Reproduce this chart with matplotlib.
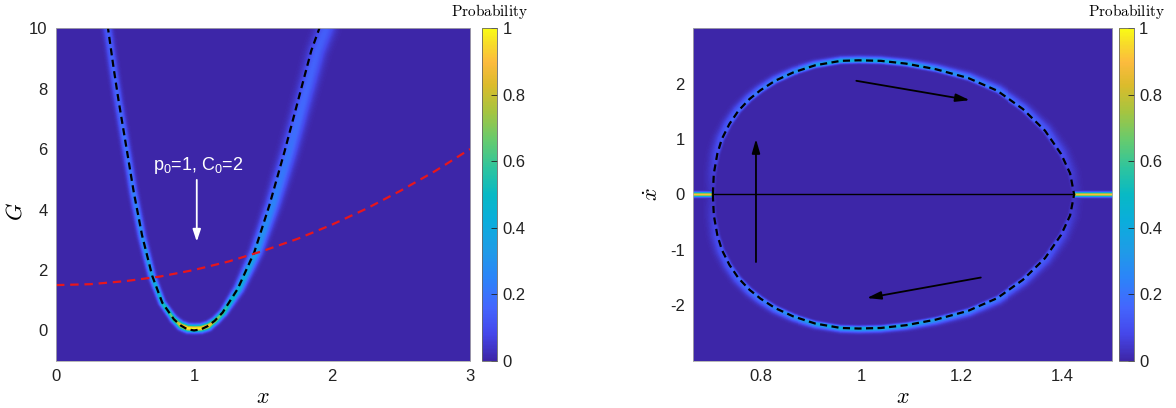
import numpy as np
import matplotlib
matplotlib.use("Agg")
import matplotlib.pyplot as plt
from matplotlib.colors import LinearSegmentedColormap
from matplotlib.path import Path
from matplotlib.ticker import FuncFormatter

# ---- left panel: G(x) well (black dashed)
curve_x = [0.374, 0.417, 0.454, 0.515, 0.563, 0.624, 0.697, 0.770, 0.854, 0.905, 0.952, 1.0,
           1.05, 1.098, 1.15, 1.207, 1.316, 1.437, 1.546, 1.656, 1.753, 1.850, 1.911]
curve_G = [10.09, 8.7, 7.59, 5.92, 4.59, 3.14, 1.81, 0.92, 0.37, 0.16, 0.04, 0.0,
           0.035, 0.14, 0.32, 0.59, 1.37, 2.59, 4.14, 5.92, 7.59, 9.26, 10.03]

# ridge of the probability band (drifts outwards on the right branch)
ridge_x = [0.368, 0.411, 0.448, 0.509, 0.557, 0.618, 0.691, 0.765, 0.850, 0.902, 0.951, 1.0,
           1.05, 1.099, 1.152, 1.210, 1.321, 1.447, 1.566, 1.686, 1.788, 1.890, 1.956]
ridge_G = [10.09, 8.7, 7.59, 5.92, 4.59, 3.14, 1.81, 0.92, 0.37, 0.16, 0.07, 0.06,
           0.07, 0.14, 0.32, 0.59, 1.37, 2.59, 4.14, 5.92, 7.59, 9.26, 10.03]

# peak probability / band half width (px) along the ridge, by G
band_G = [0.0, 0.12, 0.25, 0.5, 0.8, 1.2, 2.0, 3.0, 5.0, 7.5, 10.0]
band_peak = [1.0, 1.0, 0.8, 0.66, 0.55, 0.46, 0.38, 0.3, 0.22, 0.17, 0.14]
band_sig_left = [2.4, 2.4, 2.2, 2.0, 2.0, 2.1, 2.3, 2.5, 2.7, 2.9, 3.1]
band_sig_right = [2.4, 2.4, 2.2, 2.2, 2.4, 2.8, 3.4, 4.0, 5.0, 5.5, 6.0]

# red dashed curve
red_x = [0, 0.25, 0.5, 0.75, 1.0, 1.25, 1.5, 1.75, 2.0, 2.25, 2.5, 2.75, 3.0]
red_G = [1.50, 1.53, 1.63, 1.78, 2.0, 2.28, 2.63, 3.03, 3.5, 4.03, 4.63, 5.28, 6.0]

# ---- right panel: orbit in (x, xdot), upper half; lower half is the mirror
orbit_x = [0.704, 0.706, 0.713, 0.722, 0.737, 0.755, 0.777, 0.799, 0.828, 0.864, 0.908, 0.959,
           0.995, 1.039, 1.089, 1.148, 1.213, 1.271, 1.322, 1.366, 1.398, 1.416, 1.424]
orbit_v = [0.0, 0.376, 0.734, 1.0, 1.27, 1.51, 1.72, 1.88, 2.05, 2.20, 2.33, 2.41,
           2.42, 2.41, 2.36, 2.26, 2.10, 1.87, 1.54, 1.15, 0.73, 0.38, 0.0]

ring_v = [0.0, 0.4, 0.8, 1.2, 1.6, 2.0, 2.25, 2.4, 2.45]
ring_peak = [0.03, 0.06, 0.1, 0.14, 0.18, 0.24, 0.32, 0.42, 0.45]
ring_sig_out = [5.0, 5.0, 5.0, 4.5, 4.0, 3.5, 3.0, 2.5, 2.5]
ring_sig_in = 1.5
stripe_peak = 0.9
stripe_sig = 1.5

# arrows on the right panel: (start, end)
flow_arrows = [((0.99, 2.05), (1.216, 1.70)),
               ((1.238, -1.50), (1.011, -1.87)),
               ((0.790, -1.22), (0.790, 1.0))]

parula = LinearSegmentedColormap.from_list("parula", [
    (0.00, (0.242, 0.150, 0.660)), (0.08, (0.272, 0.280, 0.920)),
    (0.16, (0.265, 0.400, 0.995)), (0.25, (0.170, 0.520, 0.975)),
    (0.33, (0.120, 0.610, 0.905)), (0.42, (0.040, 0.680, 0.860)),
    (0.50, (0.030, 0.725, 0.770)), (0.58, (0.180, 0.770, 0.620)),
    (0.66, (0.390, 0.795, 0.440)), (0.75, (0.650, 0.770, 0.250)),
    (0.83, (0.860, 0.735, 0.170)), (0.90, (0.990, 0.735, 0.240)),
    (0.95, (0.970, 0.850, 0.170)), (1.00, (0.977, 0.984, 0.081))])

plt.rcParams['font.family'] = ['Liberation Sans', 'DejaVu Sans']
plt.rcParams['axes.unicode_minus'] = False
plt.rcParams['mathtext.fontset'] = 'custom'
plt.rcParams['mathtext.rm'] = 'Liberation Sans'
plt.rcParams['mathtext.it'] = 'Liberation Sans:italic'


def dense(xs, ys, n=25):
    px = np.concatenate([np.linspace(xs[i], xs[i + 1], n, endpoint=False) for i in range(len(xs) - 1)])
    py = np.concatenate([np.linspace(ys[i], ys[i + 1], n, endpoint=False) for i in range(len(ys) - 1)])
    return px, py


def ridge_field(gx, gy, px, py, pk, sg, sx, sy):
    img = np.zeros((len(gy), len(gx)))
    for j, y in enumerate(gy):
        d2 = ((gx[:, None] - px[None, :]) * sx) ** 2 + ((y - py[None, :]) * sy) ** 2
        img[j] = (pk[None, :] * np.exp(-0.5 * d2 / sg[None, :] ** 2)).max(axis=1)
    return img


fig = plt.figure(figsize=(11.76, 4.08), dpi=100)
ax1 = fig.add_axes([0.0476, 0.116, 0.3521, 0.815])
cax1 = fig.add_axes([0.4101, 0.116, 0.0123, 0.815])
ax2 = fig.add_axes([0.5895, 0.116, 0.3563, 0.815])
cax2 = fig.add_axes([0.9518, 0.116, 0.0122, 0.815])

# ---- left heatmap
xlim1, ylim1 = (0, 3), (-1, 10)
sx1, sy1 = 138.0, 30.25   # px per data unit
gx1 = np.linspace(*xlim1, 415)
gy1 = np.linspace(*ylim1, 333)
px, py = dense(ridge_x, ridge_G)
pk = np.interp(py, band_G, band_peak)
sg = np.where(px < 1, np.interp(py, band_G, band_sig_left), np.interp(py, band_G, band_sig_right))
img1 = ridge_field(gx1, gy1, px, py, pk, sg, sx1, sy1)
im1 = ax1.imshow(img1, extent=[*xlim1, *ylim1], origin='lower', aspect='auto',
                 cmap=parula, vmin=0, vmax=1, interpolation='nearest')
ax1.plot(curve_x, curve_G, color='k', lw=1.6, dashes=(3.2, 2.0))
ax1.plot(red_x, red_G, color='#e8161c', lw=1.6, dashes=(3.8, 2.6))
ax1.annotate('', xy=(1.02, 2.94), xytext=(1.02, 4.98),
             arrowprops=dict(arrowstyle='-|>,head_length=0.6,head_width=0.2', color='white',
                             lw=1.3, mutation_scale=12, shrinkA=0, shrinkB=0))
ax1.text(1.03, 5.47, r'p$_{\mathrm{0}}$=1, C$_{\mathrm{0}}$=2', color='white',
         ha='center', va='center', fontsize=13)
ax1.set_xlim(*xlim1)
ax1.set_ylim(*ylim1)
ax1.set_xticks([0, 1, 2, 3])
ax1.set_yticks([0, 2, 4, 6, 8, 10])
ax1.set_xlabel(r'$x$', fontsize=16, math_fontfamily='cm', labelpad=2)
ax1.set_ylabel(r'$G$', fontsize=16, math_fontfamily='cm')
ax1.yaxis.set_label_coords(-0.07, 0.45)

# ---- right heatmap
xlim2, ylim2 = (0.665, 1.5), (-3, 3)
sx2, sy2 = 505.0, 55.5
gx2 = np.linspace(*xlim2, 422)
gy2 = np.linspace(*ylim2, 333)
loop_x = list(orbit_x) + list(orbit_x[::-1][1:])
loop_v = list(orbit_v) + [-v for v in orbit_v[::-1][1:]]
px, py = dense(loop_x, loop_v)
pk = np.interp(np.abs(py), ring_v, ring_peak)
img_out = ridge_field(gx2, gy2, px, py, pk, np.interp(np.abs(py), ring_v, ring_sig_out), sx2, sy2)
img_in = ridge_field(gx2, gy2, px, py, pk, np.full_like(px, ring_sig_in), sx2, sy2)
GX, GY = np.meshgrid(gx2, gy2)
inside = Path(np.column_stack([loop_x, loop_v])).contains_points(
    np.column_stack([GX.ravel(), GY.ravel()])).reshape(GX.shape)
img2 = np.where(inside, img_in, img_out)
outside_x = (GX < min(orbit_x)) | (GX > max(orbit_x))
stripe = stripe_peak * np.exp(-0.5 * (GY * sy2 / stripe_sig) ** 2)
img2 = np.where(outside_x, np.maximum(img2, stripe), img2)
im2 = ax2.imshow(img2, extent=[*xlim2, *ylim2], origin='lower', aspect='auto',
                 cmap=parula, vmin=0, vmax=1, interpolation='nearest')
ax2.plot([min(orbit_x), max(orbit_x)], [0, 0], color='k', lw=1.0)
ax2.plot(loop_x, loop_v, color='k', lw=1.6, dashes=(3.2, 2.0))
for (x0, y0), (x1, y1) in flow_arrows:
    ax2.annotate('', xy=(x1, y1), xytext=(x0, y0),
                 arrowprops=dict(arrowstyle='-|>,head_length=0.7,head_width=0.2', color='k',
                                 lw=1.3, mutation_scale=12, shrinkA=0, shrinkB=0))
ax2.set_xlim(*xlim2)
ax2.set_ylim(*ylim2)
ax2.set_xticks([0.8, 1, 1.2, 1.4])
ax2.set_yticks([-2, -1, 0, 1, 2])
ax2.set_xlabel(r'$x$', fontsize=16, math_fontfamily='cm', labelpad=2)
ax2.set_ylabel(r'$\dot{x}$', fontsize=16, math_fontfamily='cm')
ax2.yaxis.set_label_coords(-0.072, 0.5)

fmt = FuncFormatter(lambda v, _: f'{v:g}')
for ax in (ax1, ax2):
    ax.xaxis.set_major_formatter(fmt)
    ax.yaxis.set_major_formatter(fmt)
    ax.tick_params(length=0, labelsize=12, pad=6, colors='#222222')
    for s in ax.spines.values():
        s.set_color('#aaaaaa')
        s.set_linewidth(0.6)

for cax, im in ((cax1, im1), (cax2, im2)):
    cb = fig.colorbar(im, cax=cax, ticks=[0, 0.2, 0.4, 0.6, 0.8, 1])
    cb.ax.yaxis.set_major_formatter(fmt)
    cb.ax.tick_params(direction='in', length=4, width=0.6, labelsize=12, pad=4, colors='#222222')
    cb.outline.set_linewidth(0.6)
    cb.outline.set_edgecolor('#666666')
    pos = cax.get_position()
    fig.text((pos.x0 + pos.x1) / 2, 0.971, r'$\mathrm{Probability}$', math_fontfamily='cm',
             ha='center', va='center', fontsize=11)

fig.savefig('out.png', dpi=100)
